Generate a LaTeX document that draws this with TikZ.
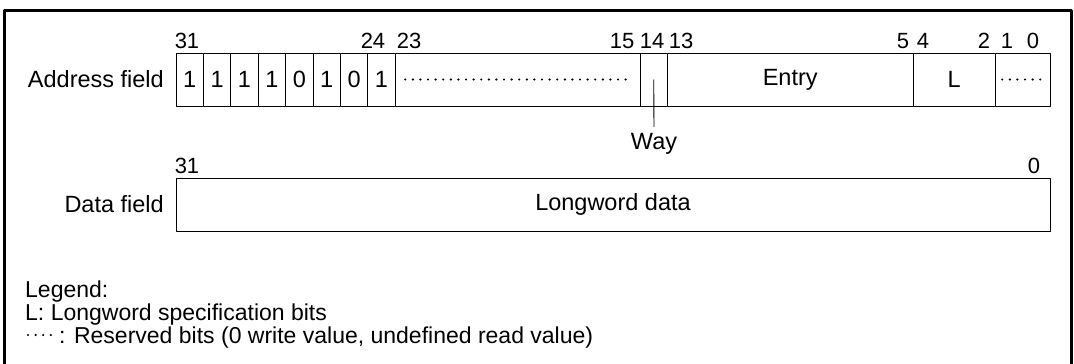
\documentclass[tikz,border=0pt]{standalone}
\usepackage{fontspec}
\setmainfont{Liberation Sans}
\usetikzlibrary{positioning, calc}

\begin{document}
\begin{tikzpicture}[x=1pt, y=-1pt, line join=round,
    cell/.style={draw, line width=0.9pt, minimum height=53pt, inner sep=0pt, outer sep=0pt, anchor=west, font=\fontsize{23.5}{28}\selectfont},
    bitnum/.style={anchor=base, inner sep=0pt, font=\fontsize{22}{26}\selectfont},
    fieldname/.style={anchor=east, inner sep=0pt, font=\fontsize{23.5}{28}\selectfont},
    resdots/.style={line width=2.4pt, line cap=round, dash pattern=on 0pt off 7.6pt},
    legend/.style={anchor=base west, inner sep=0pt, font=\fontsize{23}{27}\selectfont}]

    \useasboundingbox (0,0) rectangle (1074,364);

    % Frame (open at the bottom)
    \draw[line width=3pt] (4,380) -- (4,10) -- (1071,10) -- (1071,380);

    % Address field
    \node[fieldname] (addr) at (164,79.5) {Address field};
    \foreach \v [count=\i] in {1,1,1,1,0,1,0,1}{
        \node[cell, minimum width=27.4pt] (c\i) at ({176+27.4*(\i-1)},79.5) {\v};
    }
    \node[cell, minimum width=245pt, right=0pt of c8] (res) {};
    \node[cell, minimum width=27pt, right=0pt of res] (way) {};
    \node[cell, minimum width=246pt, right=0pt of way] (entry) {Entry};
    \node[cell, minimum width=82pt, right=0pt of entry] (lw) {L};
    \node[cell, minimum width=55pt, right=0pt of lw] (res2) {};

    % Reserved bits
    \draw[resdots] ($(res.west)+(10,0)$) -- ($(res.east)+(-9,0)$);
    \draw[resdots] ($(res2.west)+(7,0)$) -- ($(res2.east)+(-6,0)$);

    % Bit numbers
    \foreach \x/\b in {187/31, 373/24, 409/23, 622/15, 652/14, 681/13,
        903/5, 923/4, 984/2, 1007/1, 1033/0}{
        \node[bitnum] (a\b) at (\x,48) {\b};
    }

    % Way
    \coordinate (waytip) at (654,127);
    \draw[line width=0.9pt] (way.center) -- (waytip);
    \node[below=6pt of waytip, inner sep=0pt, font=\fontsize{23.5}{28}\selectfont] (waylbl) {Way};

    % Data field
    \node[fieldname] (dat) at (164,204.5) {Data field};
    \node[cell, minimum width=874pt] (data) at (176,204.5) {Longword data};
    \node[bitnum] (d31) at (187,173) {31};
    \node[bitnum] (d0) at (1034,173) {0};

    % Legend
    \node[legend] (leg) at (25,297) {Legend:};
    \node[legend] (legl) at (25,320) {L: Longword specification bits};
    \draw[resdots] (28,335) -- (51,335);
    \node[legend] (legr) at (59,343) {: Reserved bits (0 write value, undefined read value)};

\end{tikzpicture}
\end{document}
